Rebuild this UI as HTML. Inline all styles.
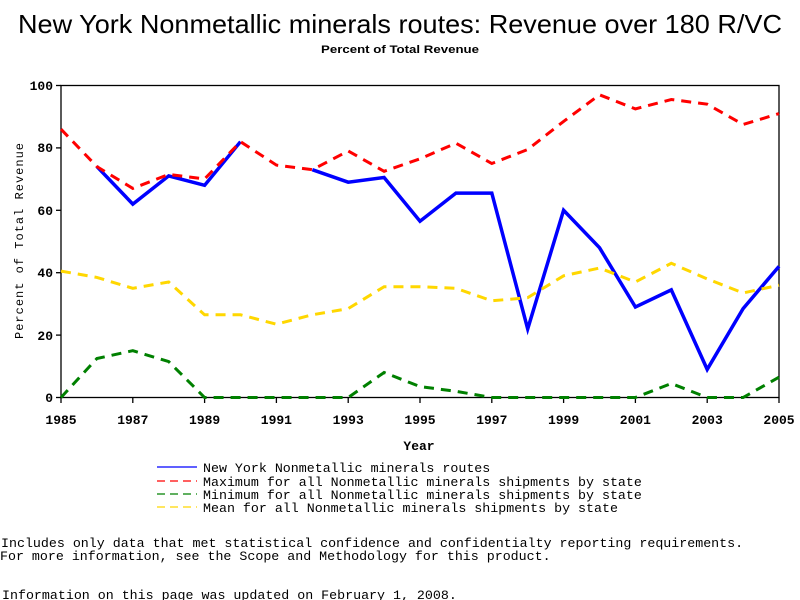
<!DOCTYPE html>
<html><head><style>
html,body{margin:0;padding:0;background:#fff;width:800px;height:600px;overflow:hidden}
svg text{font-family:"Liberation Mono",monospace}
</style></head><body>
<svg width="800" height="600" xmlns="http://www.w3.org/2000/svg">
<text x="400" y="33" text-anchor="middle" font-family="Liberation Sans, sans-serif" style="font-family:'Liberation Sans',sans-serif" font-size="26" textLength="764" lengthAdjust="spacingAndGlyphs">New York Nonmetallic minerals routes: Revenue over 180 R/VC</text>
<text x="400" y="53" text-anchor="middle" style="font-family:'Liberation Sans',sans-serif" font-size="11" font-weight="bold" textLength="158" lengthAdjust="spacingAndGlyphs">Percent of Total Revenue</text>
<rect x="61" y="85.5" width="718" height="312" fill="none" stroke="#000" stroke-width="1.3"/>
<g stroke="#000" stroke-width="1.3">
<line x1="56" x2="61" y1="85.5" y2="85.5"/><line x1="56" x2="61" y1="147.9" y2="147.9"/><line x1="56" x2="61" y1="210.3" y2="210.3"/><line x1="56" x2="61" y1="272.7" y2="272.7"/><line x1="56" x2="61" y1="335.1" y2="335.1"/><line x1="56" x2="61" y1="397.5" y2="397.5"/>
<line x1="61" x2="61" y1="397.5" y2="403"/><line x1="132.8" x2="132.8" y1="397.5" y2="403"/><line x1="204.6" x2="204.6" y1="397.5" y2="403"/><line x1="276.4" x2="276.4" y1="397.5" y2="403"/><line x1="348.2" x2="348.2" y1="397.5" y2="403"/><line x1="420" x2="420" y1="397.5" y2="403"/><line x1="491.8" x2="491.8" y1="397.5" y2="403"/><line x1="563.6" x2="563.6" y1="397.5" y2="403"/><line x1="635.4" x2="635.4" y1="397.5" y2="403"/><line x1="707.2" x2="707.2" y1="397.5" y2="403"/><line x1="779" x2="779" y1="397.5" y2="403"/>
</g>
<g font-size="13" font-weight="bold" text-anchor="end" style="font-family:'Liberation Sans',sans-serif">
<text x="53" y="90">100</text><text x="53" y="152">80</text><text x="53" y="215">60</text><text x="53" y="277">40</text><text x="53" y="340">20</text><text x="53" y="402">0</text>
</g>
<g font-size="13" font-weight="bold" text-anchor="middle" style="font-family:'Liberation Sans',sans-serif">
<text x="61" y="424">1985</text><text x="132.8" y="424">1987</text><text x="204.6" y="424">1989</text><text x="276.4" y="424">1991</text><text x="348.2" y="424">1993</text><text x="420" y="424">1995</text><text x="491.8" y="424">1997</text><text x="563.6" y="424">1999</text><text x="635.4" y="424">2001</text><text x="707.2" y="424">2003</text><text x="779" y="424">2005</text>
<text x="419" y="450">Year</text>
</g>
<text transform="translate(23,241) rotate(-90)" text-anchor="middle" font-size="12" textLength="196" lengthAdjust="spacing">Percent of Total Revenue</text>
<g fill="none" stroke-width="3">
<polyline stroke="#0000ff" stroke-width="3.5" points="96.9,166.6 132.8,204.1 168.7,175.9 204.6,185.3 240.5,141.7 M"/>
<polyline stroke="#0000ff" stroke-width="3.5" points="312.3,169.7 348.2,182.2 384.1,177.5 420,221.2 455.9,193.1 491.8,193.1 527.7,328.9 563.6,210.3 599.5,247.7 635.4,307 671.3,289.9 707.2,369.4 743.1,308.6 779,266.4"/>
<polyline stroke="#0000ff" stroke-width="3.5" points="240.5,141.7 276.4,166.6 312.3,169.7" stroke-opacity="0"/>
<polyline stroke="#ff0000" stroke-dasharray="10,7" points="61,129.2 96.9,166.6 132.8,188.4 168.7,174.4 204.6,179 240.5,141.7 276.4,165.1 312.3,169.7 348.2,151 384.1,171.3 420,158.8 455.9,143.2 491.8,163.5 527.7,149.5 563.6,121.4 599.5,94.8 635.4,108.9 671.3,99.5 707.2,104.2 743.1,124.5 779,113.6"/>
<polyline stroke="#008000" stroke-dasharray="10,7" points="61,397.5 96.9,358.5 132.8,350.7 168.7,361.6 204.6,397.5 240.5,397.5 276.4,397.5 312.3,397.5 348.2,397.5 384.1,372.5 420,386.6 455.9,391.3 491.8,397.5 527.7,397.5 563.6,397.5 599.5,397.5 635.4,397.5 671.3,383.5 707.2,397.5 743.1,397.5 779,377.2"/>
<polyline stroke="#ffd700" stroke-dasharray="10,7" points="61,271.1 96.9,277.4 132.8,288.3 168.7,282 204.6,314.8 240.5,314.8 276.4,324.2 312.3,314.8 348.2,308.6 384.1,286.7 420,286.7 455.9,288.3 491.8,300.8 527.7,297.7 563.6,275.8 599.5,268 635.4,282 671.3,263.3 707.2,278.9 743.1,293 779,285.2"/>
</g>
<g stroke-width="1.3">
<line x1="157" x2="197" y1="467" y2="467" stroke="#0000ff"/>
<line x1="157" x2="197" y1="481" y2="481" stroke="#ff0000" stroke-dasharray="8,5"/>
<line x1="157" x2="197" y1="494" y2="494" stroke="#008000" stroke-dasharray="8,5"/>
<line x1="157" x2="197" y1="507" y2="507" stroke="#ffd700" stroke-dasharray="8,5"/>
</g>
<g font-size="13.3">
<text x="203" y="472">New York Nonmetallic minerals routes</text>
<text x="203" y="486">Maximum for all Nonmetallic minerals shipments by state</text>
<text x="203" y="499">Minimum for all Nonmetallic minerals shipments by state</text>
<text x="203" y="512">Mean for all Nonmetallic minerals shipments by state</text>
<text x="1" y="547">Includes only data that met statistical confidence and confidentialty reporting requirements.</text>
<text x="0" y="560">For more information, see the Scope and Methodology for this product.</text>
<text x="2" y="599">Information on this page was updated on February 1, 2008.</text>
</g>
</svg>
</body></html>
